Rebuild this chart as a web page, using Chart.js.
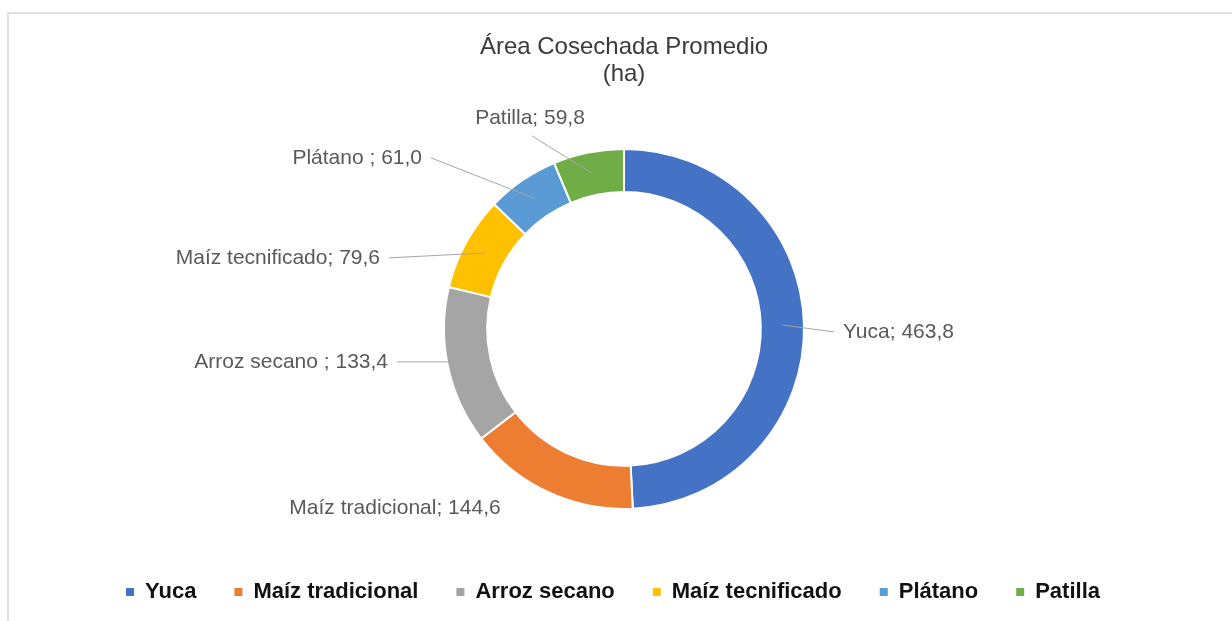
<!DOCTYPE html>
<html>
<head>
<meta charset="utf-8">
<script src="https://cdn.jsdelivr.net/npm/chart.js@4.4.1/dist/chart.umd.min.js"></script>
<style>
  html, body { margin: 0; padding: 0; background: #ffffff; width: 1232px; height: 621px; overflow: hidden; }
  #frame { position: absolute; left: 7px; top: 12px; width: 1300px; height: 700px; border: 2px solid #e2e2e2; box-sizing: border-box; }
  #c { position: absolute; left: 0; top: 0; }
</style>
</head>
<body>
<div id="frame"></div>
<canvas id="c" width="1232" height="621"></canvas>
<script>
// ---- data ----
const categories = ['Yuca', 'Maíz tradicional', 'Arroz secano', 'Maíz tecnificado', 'Plátano', 'Patilla'];
const labelNames = ['Yuca', 'Maíz tradicional', 'Arroz secano ', 'Maíz tecnificado', 'Plátano ', 'Patilla'];
const values = [463.8, 144.6, 133.4, 79.6, 61.0, 59.8];
const colors = ['#4472C4', '#ED7D31', '#A5A5A5', '#FFC000', '#5B9BD5', '#70AD47'];
const titleLines = ['Área Cosechada Promedio', '(ha)'];

const FONT = '"Liberation Sans", Arial, sans-serif';

function fmt(v) { return v.toFixed(1).replace('.', ','); }

// label placements relative to doughnut centre
const placements = [
  { dx: 219,  dy: 3,    align: 'left',   leader: 'left' },
  { dx: -229, dy: 179,  align: 'center', leader: null },
  { dx: -236, dy: 33,   align: 'right',  leader: 'right' },
  { dx: -244, dy: -71,  align: 'right',  leader: 'right' },
  { dx: -202, dy: -171, align: 'right',  leader: 'right' },
  { dx: -94,  dy: -211, align: 'center', leader: 'bottom' }
];

const leaderLabels = {
  id: 'leaderLabels',
  afterDatasetsDraw(chart, args, opts) {
    const meta = chart.getDatasetMeta(0);
    const ctx = chart.ctx;
    const cx = meta.data[0].x, cy = meta.data[0].y;
    ctx.save();
    ctx.font = '21px ' + FONT;
    ctx.textBaseline = 'middle';
    meta.data.forEach((arc, i) => {
      const p = opts.placements[i];
      const text = labelNames[i] + '; ' + fmt(values[i]);
      const tx = cx + p.dx, ty = cy + p.dy;
      ctx.textAlign = p.align;
      ctx.fillStyle = '#595959';
      ctx.fillText(text, tx, ty);
      if (p.leader) {
        const mid = arc.getCenterPoint();
        let sx, sy;
        if (p.leader === 'right') { sx = tx + 9; sy = ty; }
        else if (p.leader === 'left') { sx = tx - 9; sy = ty; }
        else { sx = tx + 2; sy = ty + 18; }
        ctx.beginPath();
        ctx.strokeStyle = '#a6a6a6';
        ctx.lineWidth = 1;
        ctx.moveTo(sx, sy);
        ctx.lineTo(mid.x, mid.y);
        ctx.stroke();
      }
    });
    ctx.restore();
  }
};

const legendShift = {
  id: 'legendShift',
  afterLayout(chart, args, opts) {
    if (chart.legend) { chart.legend.left += opts.dx; chart.legend.right += opts.dx; }
  }
};

new Chart(document.getElementById('c'), {
  type: 'doughnut',
  data: {
    labels: categories,
    datasets: [{
      data: values,
      backgroundColor: colors,
      borderColor: '#ffffff',
      borderWidth: 2,
      hoverOffset: 0
    }]
  },
  plugins: [leaderLabels, legendShift],
  options: {
    responsive: false,
    animation: false,
    devicePixelRatio: 1,
    radius: 180,
    cutout: '76%',
    layout: { padding: { left: 16, right: 0, top: 0, bottom: 8 } },
    plugins: {
      tooltip: { enabled: false },
      title: {
        display: true,
        text: titleLines,
        color: '#3a3a3a',
        font: { family: FONT, size: 24, weight: 'normal', lineHeight: 1.12 },
        padding: { top: 34, bottom: 27 }
      },
      legend: {
        display: true,
        position: 'bottom',
        labels: {
          boxWidth: 8,
          boxHeight: 8,
          padding: 38,
          color: '#111111',
          font: { family: FONT, size: 22, weight: 'bold' },
          generateLabels(chart) {
            const items = Chart.overrides.doughnut.plugins.legend.labels.generateLabels(chart);
            return items.map(it => Object.assign(it, { lineWidth: 0, strokeStyle: 'rgba(0,0,0,0)' }));
          }
        }
      },
      leaderLabels: { placements },
      legendShift: { dx: -11 }
    }
  }
});
</script>
</body>
</html>
